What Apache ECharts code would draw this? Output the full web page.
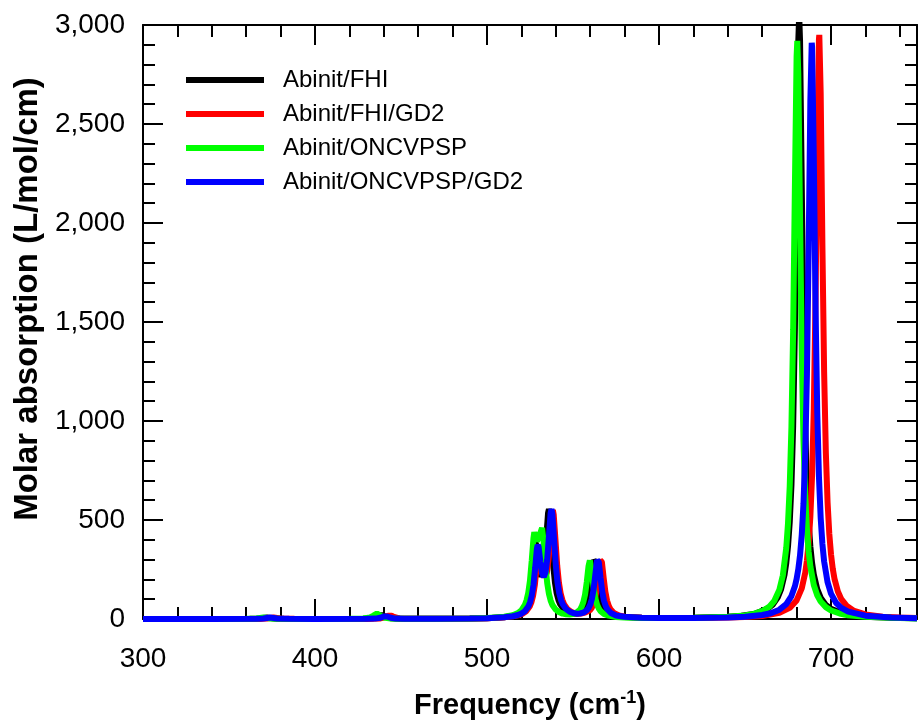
<!DOCTYPE html>
<html><head><meta charset="utf-8">
<script src="https://cdn.jsdelivr.net/npm/echarts@6/dist/echarts.min.js"></script>
<style>html,body{margin:0;padding:0;background:#fff}#c{width:918px;height:722px}</style>
</head><body><div id="c"></div>
<script>
// ---- data ----
const seriesNames = ['Abinit/FHI', 'Abinit/FHI/GD2', 'Abinit/ONCVPSP', 'Abinit/ONCVPSP/GD2'];
const seriesColors = ['#000000', '#ff0000', '#00ff00', '#0000ff'];

const fhi = [[300,0],[340,0],[362,1],[368,3],[372,8],[376,3],[382,1],[400,0],[428,1],[434,4],[437,12],[439,20],[441,12],[444,4],[450,1],[470,1],[490,2],[500,4],[510,9],[514,16],[516.5,20],[518.5,27],[520.5,39],[521.5,49],[522.5,65],[523.5,88],[524.5,122],[525.5,178],[526.5,268],[527.5,368],[528,390],[528.5,378],[529.5,300],[530.5,237],[531.5,216],[532.5,237],[533.5,302],[534.5,417],[535.5,536],[536,555],[536.5,530],[537.5,400],[538.5,271],[539.5,184],[540.5,130],[541.5,97],[542.5,75],[544.5,50],[546.5,37],[548.5,30],[550.5,27],[552.5,28],[554.5,32],[556.1,44],[557.1,55],[558.1,73],[559.1,102],[560.1,151],[561.1,226],[562.1,298],[562.5,305],[563.1,287],[564.1,209],[565.1,138],[566.1,93],[567.1,66],[568.1,49],[570.1,30],[573.1,18],[580,10],[590,6],[600,5],[620,6],[640,11],[648,16],[656,27],[663,51],[666,71],[669,108],[671,151],[673,225],[674,283],[675,366],[676,488],[677,675],[678,975],[679,1463],[680,2193],[681,2923],[681.5,3050],[682,2923],[683,2193],[684,1463],[685,975],[686,675],[687,488],[688,366],[689,283],[690,225],[692,151],[694,108],[697,71],[700,51],[707,27],[715,16],[723,10],[735,6],[750,4]];

const fhiGd2 = [[300,0],[340,0],[368,1],[372,3],[376,8],[380,3],[388,1],[400,0],[430,1],[438,3],[441,10],[442.5,17],[443.5,20],[444.5,17],[446,10],[449,3],[455,1],[470,1],[490,2],[500,4],[510,9],[515,14],[518.8,20],[520.8,27],[522.8,39],[523.8,49],[524.8,63],[525.8,84],[526.8,117],[527.8,171],[528.8,258],[529.8,354],[530.3,372],[530.8,362],[531.8,290],[532.8,230],[533.8,212],[534.8,235],[535.8,301],[536.8,417],[537.8,536],[538.3,550],[538.8,526],[539.8,400],[540.8,271],[541.8,184],[542.8,130],[543.8,97],[544.8,75],[546.8,50],[548.8,37],[550.8,30],[552.8,27],[554.8,28],[556.8,32],[559.8,44],[560.8,55],[561.8,73],[562.8,102],[563.8,151],[564.8,226],[565.8,298],[566.2,307],[566.8,287],[567.8,209],[568.8,138],[569.8,93],[570.8,66],[571.8,49],[573.8,30],[576.8,18],[580,12],[590,6],[600,5],[620,5],[640,7],[650,10],[660,15],[670,31],[676,56],[680,94],[683,155],[685,233],[686,295],[687,384],[688,518],[689,726],[690,1062],[691,1603],[692,2360],[693,2930],[693.2,2950],[694,2655],[695,1888],[696,1249],[697,841],[698,590],[699,431],[700,327],[701,255],[702,204],[704,139],[706,100],[709,67],[713,43],[720,23],[730,12],[740,8],[750,5]];

const oncv = [[300,0],[340,0],[360,1],[366,3],[370,8],[374,3],[380,1],[400,0],[420,1],[428,3],[432,8],[434,17],[435,24],[436,28],[437,24],[438,17],[440,8],[444,3],[450,1],[470,1],[490,3],[500,5],[510,11],[515,19],[518,30],[520,44],[522,71],[523,95],[524,133],[525,195],[526,294],[527,407],[527.5,438],[528,438],[529,393],[530,385],[531,433],[532,460],[533,383],[534,268],[535,182],[536,128],[537,93],[538,71],[540,47],[542,34],[544,27],[546,24],[548,23],[550,25],[552,32],[554,46],[555,62],[556,85],[557,123],[558,186],[559,265],[559.8,296],[560,294],[561,234],[562,157],[563,104],[564,72],[565,53],[566,40],[568,26],[570,19],[575,10],[580,7],[590,5],[600,5],[620,6],[640,11],[650,18],[655,26],[660,40],[664,61],[667,91],[670,148],[672,220],[674,360],[675,482],[676,670],[677,971],[678,1460],[679,2179],[680,2841],[680.4,2920],[681,2748],[682,2022],[683,1343],[684,898],[685,625],[686,453],[687,341],[688,265],[690,172],[692,120],[694,88],[697,60],[700,43],[705,28],[710,19],[720,11],[735,6],[750,3]];

const oncvGd2 = [[300,0],[340,0],[366,1],[370,3],[374,8],[378,3],[385,1],[400,0],[430,1],[435,2],[438,6],[440,13],[441,15],[442,13],[444,6],[447,2],[452,1],[470,1],[490,2],[500,4],[510,9],[515,14],[518,20],[520,27],[522,39],[523,49],[524,63],[525,84],[526,117],[527,171],[528,258],[529,354],[529.5,375],[530,364],[531,290],[532,230],[533,212],[534,235],[535,301],[536,417],[537,536],[537.5,555],[538,530],[539,400],[540,271],[541,184],[542,130],[543,97],[544,75],[546,50],[548,37],[550,30],[552,27],[554,28],[556,32],[558,44],[559,55],[560,73],[561,102],[562,151],[563,226],[564,298],[564.4,307],[565,287],[566,209],[567,138],[568,93],[569,66],[570,49],[572,30],[575,18],[580,11],[590,6],[600,5],[620,5],[640,8],[650,11],[660,20],[665,29],[670,47],[674,75],[677,116],[679,165],[680,202],[681,252],[682,322],[683,425],[684,582],[685,830],[686,1232],[687,1862],[688,2619],[688.8,2910],[689,2890],[690,2328],[691,1581],[692,1048],[693,716],[694,511],[695,379],[696,291],[698,186],[700,128],[703,81],[706,56],[710,37],[720,17],[735,8],[750,4]];

const xMajorTicks = [300, 400, 500, 600, 700];
const xMinorTicks = [320, 340, 360, 380, 420, 440, 460, 480, 520, 540, 560, 580, 620, 640, 660, 680, 720, 740];
const yTicks = [0, 500, 1000, 1500, 2000, 2500, 3000];

// ---- chart ----
const FONT = '"Liberation Sans", Arial, sans-serif';
const BLACK = '#000';
const chart = echarts.init(document.getElementById('c'), null, {renderer: 'canvas'});

function xAxisDef(position, major, showLine) {
  return {
    type: 'value', min: 300, max: 750, position: position,
    axisLine: {show: showLine, onZero: false, lineStyle: {color: BLACK, width: 2}},
    axisTick: {show: true, inside: true, length: major ? 20 : 12, lineStyle: {color: BLACK, width: 2},
               customValues: major ? xMajorTicks : xMinorTicks},
    axisLabel: (major && position === 'bottom') ?
      {show: true, customValues: xMajorTicks, fontSize: 28, color: BLACK, fontFamily: FONT, margin: 26} :
      {show: false},
    splitLine: {show: false}
  };
}

const xAxes = [xAxisDef('bottom', true, true), xAxisDef('bottom', false, false),
               xAxisDef('top', true, true), xAxisDef('top', false, false)];
xAxes[0].name = '{a|Frequency (cm}{b|-1}{a|)}';
xAxes[0].nameLocation = 'middle';
xAxes[0].nameGap = 70;
xAxes[0].nameTextStyle = {
  rich: {
    a: {fontSize: 29, fontWeight: 'bold', color: BLACK, fontFamily: FONT},
    b: {fontSize: 18, fontWeight: 'bold', color: BLACK, fontFamily: FONT, padding: [0, 0, 16, 0]}
  }
};

function yAxisDef(position, showLabel) {
  return {
    type: 'value', min: 0, max: 3000, interval: 500, position: position,
    axisLine: {show: true, onZero: false, lineStyle: {color: BLACK, width: 2}},
    axisTick: {show: true, inside: true, length: 20, lineStyle: {color: BLACK, width: 2}},
    minorTick: {show: true, splitNumber: 5, length: 12, lineStyle: {color: BLACK, width: 2}},
    axisLabel: showLabel ? {show: true, fontSize: 28, color: BLACK, fontFamily: FONT, margin: 18,
      formatter: v => Number(v).toLocaleString('en-US')} : {show: false},
    splitLine: {show: false}
  };
}
const yAxes = [yAxisDef('left', true), yAxisDef('right', false)];
yAxes[0].name = 'Molar absorption (L/mol/cm)';
yAxes[0].nameLocation = 'middle';
yAxes[0].nameGap = 96;
yAxes[0].nameTextStyle = {fontSize: 33, fontWeight: 'bold', color: BLACK, fontFamily: FONT,
  padding: [0, 0, 0, 46]};

const dataSets = [fhi, fhiGd2, oncv, oncvGd2];
const series = dataSets.map((d, i) => ({
  name: seriesNames[i], type: 'line', data: d, showSymbol: false, symbol: 'none',
  xAxisIndex: 0, yAxisIndex: 0,
  lineStyle: {color: seriesColors[i], width: 6},
  itemStyle: {color: seriesColors[i]},
  clip: true
}));

chart.setOption({
  animation: false,
  backgroundColor: '#fff',
  grid: {left: 143, top: 25, right: 1, bottom: 103, containLabel: false, outerBoundsMode: 'none'},
  legend: {
    show: true, orient: 'vertical', left: 181, top: 62,
    itemWidth: 78, itemHeight: 6, itemGap: 8, icon: 'rect',
    data: seriesNames,
    textStyle: {fontSize: 24, color: BLACK, fontFamily: FONT, lineHeight: 26, padding: [0, 0, 0, 14]}
  },
  xAxis: xAxes,
  yAxis: yAxes,
  series: series
});
</script></body></html>
